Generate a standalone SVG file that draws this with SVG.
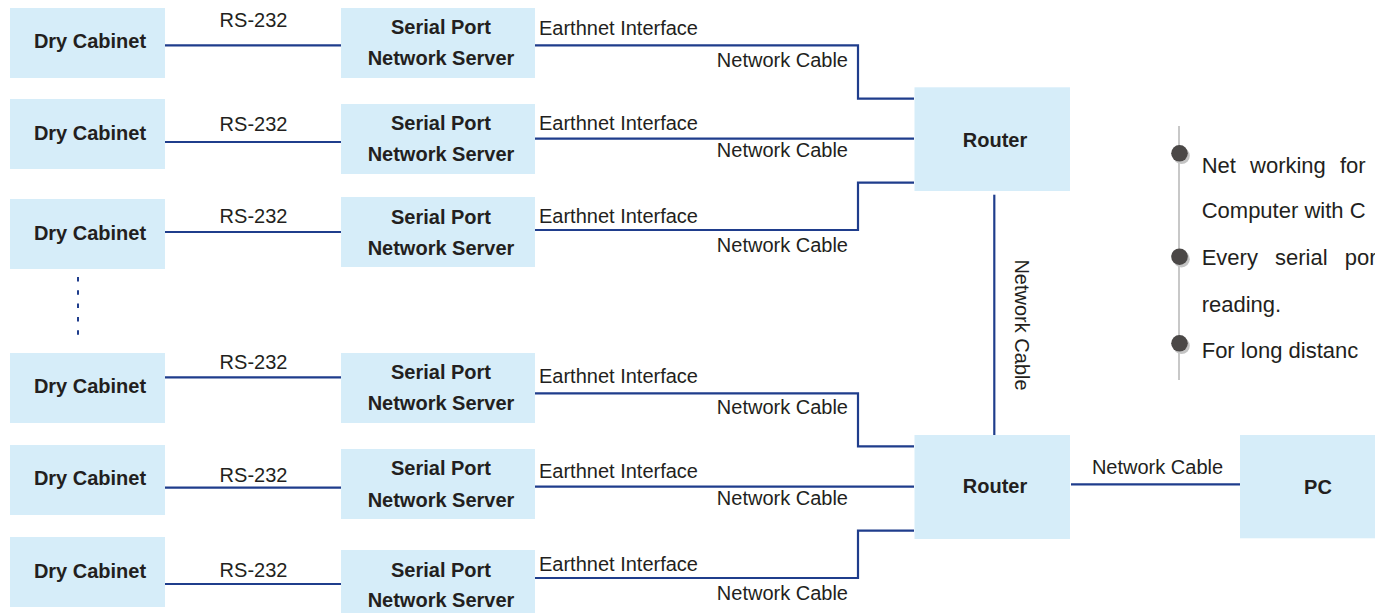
<svg xmlns="http://www.w3.org/2000/svg" width="1375" height="613" viewBox="0 0 1375 613">
<style>
.box{fill:#d6edf9}
.b{font-family:"Liberation Sans",Arial,sans-serif;font-weight:bold;font-size:20px;fill:#231f20;text-anchor:middle}
.r{font-family:"Liberation Sans",Arial,sans-serif;font-size:20px;fill:#231f20}
.m{text-anchor:middle}
.e{text-anchor:end}
.ln{fill:none;stroke:#1f3d8c;stroke-width:2.2}
.bt{font-family:"Liberation Sans",Arial,sans-serif;font-size:22px;fill:#231f20}
</style>
<rect width="1375" height="613" fill="#ffffff"/>
<g id="connectors">
<line class="ln" x1="165" y1="45.3" x2="341" y2="45.3"/>
<line class="ln" x1="165" y1="142" x2="341" y2="142"/>
<line class="ln" x1="165" y1="232" x2="341" y2="232"/>
<line class="ln" x1="165" y1="377.3" x2="341" y2="377.3"/>
<line class="ln" x1="165" y1="487.7" x2="341" y2="487.7"/>
<line class="ln" x1="165" y1="584" x2="341" y2="584"/>
<polyline class="ln" points="535,45.3 858,45.3 858,98.7 914,98.7"/>
<line class="ln" x1="535" y1="138.7" x2="914" y2="138.7"/>
<polyline class="ln" points="535,230 858,230 858,182.7 914,182.7"/>
<polyline class="ln" points="535,393.3 858,393.3 858,446.3 914,446.3"/>
<line class="ln" x1="535" y1="486.7" x2="914" y2="486.7"/>
<polyline class="ln" points="535,578 858,578 858,530.7 914,530.7"/>
<line class="ln" x1="994.3" y1="194.7" x2="994.3" y2="435"/>
<line class="ln" x1="1071" y1="484.3" x2="1240" y2="484.3"/>
<line x1="78" y1="277" x2="78" y2="336" stroke="#1f3d8c" stroke-width="2" stroke-dasharray="4.5 8.8"/>
<text class="r m" x="253.5" y="26.7">RS-232</text>
<text class="r m" x="253.5" y="131">RS-232</text>
<text class="r m" x="253.5" y="222.7">RS-232</text>
<text class="r m" x="253.5" y="369">RS-232</text>
<text class="r m" x="253.5" y="482.3">RS-232</text>
<text class="r m" x="253.5" y="577.3">RS-232</text>
<text class="r" x="539" y="35.3">Earthnet Interface</text>
<text class="r" x="539" y="130">Earthnet Interface</text>
<text class="r" x="539" y="222.7">Earthnet Interface</text>
<text class="r" x="539" y="383.3">Earthnet Interface</text>
<text class="r" x="539" y="477.7">Earthnet Interface</text>
<text class="r" x="539" y="570.7">Earthnet Interface</text>
<text class="r e" x="848" y="66.7">Network Cable</text>
<text class="r e" x="848" y="157.3">Network Cable</text>
<text class="r e" x="848" y="252.3">Network Cable</text>
<text class="r e" x="848" y="414.3">Network Cable</text>
<text class="r e" x="848" y="505">Network Cable</text>
<text class="r e" x="848" y="600">Network Cable</text>
<text class="r m" transform="translate(1015,325) rotate(90)" x="0" y="0">Network Cable</text>
<text class="r m" x="1157.5" y="474.3">Network Cable</text>
</g>
<g id="dry1"><rect class="box" x="10" y="8" width="155" height="70"/><text class="b" x="90" y="48.3">Dry Cabinet</text></g>
<g id="dry2"><rect class="box" x="10" y="99" width="155" height="70"/><text class="b" x="90" y="140">Dry Cabinet</text></g>
<g id="dry3"><rect class="box" x="10" y="199" width="155" height="70"/><text class="b" x="90" y="240">Dry Cabinet</text></g>
<g id="dry4"><rect class="box" x="10" y="353" width="155" height="70"/><text class="b" x="90" y="393.3">Dry Cabinet</text></g>
<g id="dry5"><rect class="box" x="10" y="445" width="155" height="70"/><text class="b" x="90" y="485">Dry Cabinet</text></g>
<g id="dry6"><rect class="box" x="10" y="537" width="155" height="70"/><text class="b" x="90" y="578.3">Dry Cabinet</text></g>
<g id="sps1"><rect class="box" x="341" y="8" width="194" height="70"/><text class="b" x="441" y="34.3">Serial Port</text><text class="b" x="441" y="65.3">Network Server</text></g>
<g id="sps2"><rect class="box" x="341" y="104" width="194" height="70"/><text class="b" x="441" y="130">Serial Port</text><text class="b" x="441" y="161.3">Network Server</text></g>
<g id="sps3"><rect class="box" x="341" y="197" width="194" height="70"/><text class="b" x="441" y="224">Serial Port</text><text class="b" x="441" y="255">Network Server</text></g>
<g id="sps4"><rect class="box" x="341" y="353" width="194" height="70"/><text class="b" x="441" y="379.3">Serial Port</text><text class="b" x="441" y="410">Network Server</text></g>
<g id="sps5"><rect class="box" x="341" y="449" width="194" height="70"/><text class="b" x="441" y="475">Serial Port</text><text class="b" x="441" y="506.7">Network Server</text></g>
<g id="sps6"><rect class="box" x="341" y="550" width="194" height="70"/><text class="b" x="441" y="576.7">Serial Port</text><text class="b" x="441" y="607.3">Network Server</text></g>
<g id="router1"><rect class="box" x="914.5" y="87.3" width="155.5" height="103.7"/><text class="b" x="995" y="146.7">Router</text></g>
<g id="router2"><rect class="box" x="914.5" y="435" width="155.5" height="104"/><text class="b" x="995" y="493.3">Router</text></g>
<g id="pc"><rect class="box" x="1240" y="435" width="140" height="103.3"/><text class="b" x="1318" y="494">PC</text></g>
<g id="notes">
<line x1="1179" y1="126" x2="1179" y2="380" stroke="#c8c8c8" stroke-width="2"/>
<circle cx="1181.5" cy="155.8" r="8.3" fill="#c4c4c4"/>
<circle cx="1179.5" cy="153.3" r="8.3" fill="#4b4847"/>
<circle cx="1181.5" cy="259.2" r="8.3" fill="#c4c4c4"/>
<circle cx="1179.5" cy="256.7" r="8.3" fill="#4b4847"/>
<circle cx="1181.5" cy="345.8" r="8.3" fill="#c4c4c4"/>
<circle cx="1179.5" cy="343.3" r="8.3" fill="#4b4847"/>
<text class="bt" x="1201.7" y="172.7" word-spacing="8">Net working for</text>
<text class="bt" x="1201.7" y="218.3">Computer with C</text>
<text class="bt" x="1201.7" y="265" word-spacing="11">Every serial por</text>
<text class="bt" x="1201.7" y="311.7">reading.</text>
<text class="bt" x="1201.7" y="358.3">For long distanc</text>
</g>
</svg>
